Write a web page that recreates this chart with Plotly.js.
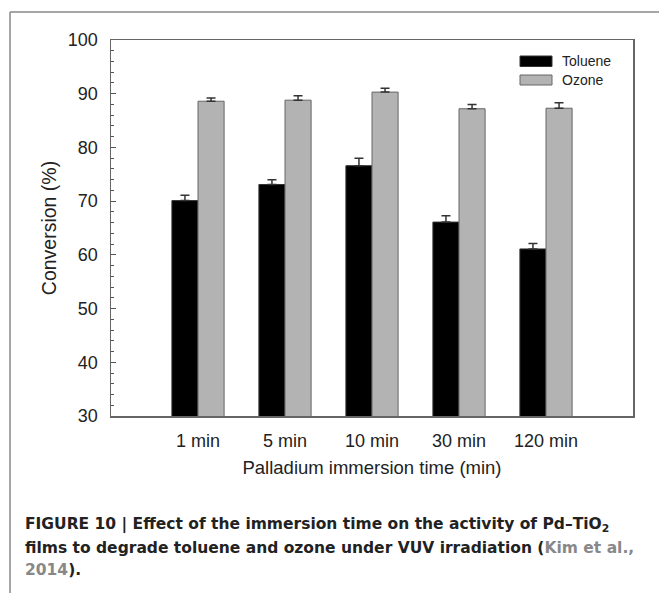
<!DOCTYPE html>
<html>
<head>
<meta charset="utf-8">
<script src="https://cdn.plot.ly/plotly-3.0.1.min.js"></script>
<style>html,body{margin:0;padding:0;background:#fff;}#chart{width:659px;height:593px;}</style>
</head>
<body>
<div id="chart"></div>
<script>
var categories = ["1 min", "5 min", "10 min", "30 min", "120 min"];
var toluene = [70.1, 73.1, 76.6, 66.1, 61.1];
var tolueneErr = [1.0, 0.9, 1.4, 1.2, 1.0];
var ozone = [88.6, 88.8, 90.3, 87.2, 87.3];
var ozoneErr = [0.6, 0.8, 0.7, 0.8, 1.0];
var seriesNames = ["Toluene", "Ozone"];
var yTicks = [30, 40, 50, 60, 70, 80, 90, 100];

var zeros = categories.map(function(){return 0;});
var traces = [
  {type:"bar", name:seriesNames[0], x:categories, y:toluene,
   marker:{color:"#000000", line:{color:"#333333", width:1}},
   error_y:{type:"data", symmetric:false, array:tolueneErr, arrayminus:zeros, color:"#333333", thickness:1.5, width:4.5},
   showlegend:false},
  {type:"bar", name:seriesNames[1], x:categories, y:ozone,
   marker:{color:"#b3b3b3", line:{color:"#666666", width:1}},
   error_y:{type:"data", symmetric:false, array:ozoneErr, arrayminus:zeros, color:"#333333", thickness:1.5, width:4.5},
   showlegend:false}
];

function px2x(p){ return (p-111)/522; }
function px2y(p){ return (416-p)/376; }

var shapes = [
  {type:"line", xref:"paper", yref:"paper", x0:px2x(10), x1:px2x(10), y0:px2y(12), y1:px2y(600), line:{color:"#888888", width:1.5}},
  {type:"line", xref:"paper", yref:"paper", x0:px2x(10), x1:px2x(665), y0:px2y(12), y1:px2y(12), line:{color:"#888888", width:1.5}},
  {type:"rect", xref:"paper", yref:"paper", x0:px2x(520), x1:px2x(552), y0:px2y(66.5), y1:px2y(56), fillcolor:"#000000", line:{color:"#333333", width:1}},
  {type:"rect", xref:"paper", yref:"paper", x0:px2x(520), x1:px2x(552), y0:px2y(85), y1:px2y(75), fillcolor:"#b3b3b3", line:{color:"#666666", width:1}}
];

var capFont = {family:"DejaVu Sans, Arial, sans-serif", size:15.5, color:"#222222"};
var legFont = {family:"Liberation Sans, Arial, sans-serif", size:14, color:"#222222"};
var annotations = [
  {xref:"paper", yref:"paper", x:px2x(560), y:px2y(61.3), xanchor:"left", yanchor:"middle", text:seriesNames[0], showarrow:false, font:legFont},
  {xref:"paper", yref:"paper", x:px2x(560), y:px2y(80), xanchor:"left", yanchor:"middle", text:seriesNames[1], showarrow:false, font:legFont},
  {xref:"paper", yref:"paper", x:px2x(23), y:px2y(525), xanchor:"left", yanchor:"middle", showarrow:false, font:capFont,
   text:"<b>FIGURE 10 | Effect of the immersion time on the activity of Pd–TiO<sub>2</sub></b>"},
  {xref:"paper", yref:"paper", x:px2x(23), y:px2y(548), xanchor:"left", yanchor:"middle", showarrow:false, font:capFont,
   text:"<b>films to degrade toluene and ozone under VUV irradiation (<span style='color:#888888'>Kim et al.,</span></b>"},
  {xref:"paper", yref:"paper", x:px2x(23), y:px2y(570), xanchor:"left", yanchor:"middle", showarrow:false, font:capFont,
   text:"<b><span style='color:#888888'>2014</span>).</b>"}
];

var axFont = {family:"Liberation Sans, Arial, sans-serif", size:18, color:"#222222"};
var layout = {
  width:659, height:593,
  margin:{l:111, r:26, t:40, b:177, pad:0},
  paper_bgcolor:"#ffffff", plot_bgcolor:"#ffffff",
  barmode:"group", bargap:0.4, bargroupgap:0,
  showlegend:false,
  font:axFont,
  xaxis:{type:"category", range:[-1,5], showgrid:false, zeroline:false,
    showline:true, linecolor:"#666666", linewidth:1.5, mirror:true,
    ticks:"", tickfont:axFont, ticklabelstandoff:8,
    title:{text:"Palladium immersion time (min)", font:{family:"Liberation Sans, Arial, sans-serif", size:18.5, color:"#222222"}, standoff:11}},
  yaxis:{range:[30,100], tickvals:yTicks, showgrid:false, zeroline:false,
    showline:true, linecolor:"#666666", linewidth:1.5, mirror:true,
    ticks:"inside", ticklen:5, tickcolor:"#555555", tickwidth:1,
    minor:{dtick:2, ticks:"inside", ticklen:3, tickcolor:"#555555", tickwidth:1},
    tickfont:axFont, ticklabelstandoff:8,
    title:{text:"Conversion (%)", font:{family:"Liberation Sans, Arial, sans-serif", size:19.5, color:"#222222"}, standoff:6}},
  shapes:shapes,
  annotations:annotations
};

Plotly.newPlot("chart", traces, layout, {displayModeBar:false, staticPlot:true});
</script>
</body>
</html>
